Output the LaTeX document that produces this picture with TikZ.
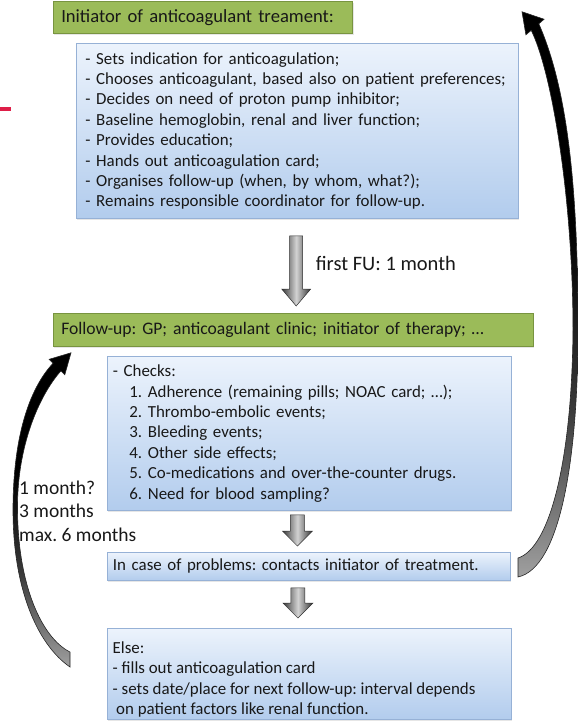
\documentclass[tikz,border=0pt]{standalone}
\usepackage{fontspec}
\setmainfont{Carlito}
\usetikzlibrary{calc,shadows}
\frenchspacing

\definecolor{boxgreen}{RGB}{155,187,89}
\definecolor{greenedge}{RGB}{120,148,64}
\definecolor{bluetop}{RGB}{236,243,252}
\definecolor{bluebot}{RGB}{178,204,237}
\definecolor{blueedge}{RGB}{150,177,214}
\definecolor{ink}{RGB}{24,24,24}
\definecolor{markred}{RGB}{222,30,72}

% dark head fading to grey tail for the curved return arrows
\pgfdeclareverticalshading{returnshade}{100bp}{color(0bp)=(gray!75); color(25bp)=(gray!75); color(40bp)=(gray!45!black); color(56bp)=(black); color(100bp)=(black)}

\tikzset{
  greenbox/.style={draw=greenedge, line width=0.9pt, fill=boxgreen, anchor=north west,
    inner xsep=8pt, inner ysep=0pt, align=left, text=ink,
    drop shadow={shadow xshift=0.8pt, shadow yshift=-1.2pt, opacity=0.2}},
  bluebox/.style={draw=blueedge, line width=0.8pt, top color=bluetop, bottom color=bluebot,
    anchor=north west, inner ysep=0pt, align=left, text=ink,
    drop shadow={shadow xshift=0.8pt, shadow yshift=-1.2pt, opacity=0.2}},
  boxtext/.style={font=\fontsize{16.9}{20.4}\selectfont},
  blockarrow/.style={draw=gray!35!black, line width=0.5pt,
    left color=gray!45!black, right color=gray!40!black, middle color=gray!35},
  returnarrow/.style={draw=gray!30!black, line width=0.6pt, shading=returnshade},
}

% straight block arrow from a start point down to a tip
% #1 start, #2 tip, #3 shaft half width, #4 head half width, #5 head length
\newcommand\blockarrow[5]{%
  \path[blockarrow] ($(#1)+(-#3,0)$) -- ($(#2)+(-#3,-#5)$) -- ($(#2)+(-#4,-#5)$) -- (#2)
    -- ($(#2)+(#4,-#5)$) -- ($(#2)+(#3,-#5)$) -- ($(#1)+(#3,0)$) -- cycle;}

\begin{document}
\begin{tikzpicture}[x=1pt,y=-1pt]
\useasboundingbox (0,0) rectangle (578,721);

% small red margin mark
\fill[markred] (0,107) rectangle (11,111);

% initiator
\node[greenbox, text width=283.6pt, minimum height=32pt,
  font=\fontsize{18.6}{21}\selectfont] (g1) at (52.8,1)
  {Initiator of anticoagulant treament:};

\node[bluebox, boxtext, inner xsep=9.4pt, text width=423.6pt, minimum height=175pt] (b1) at (75.6,43)
  {- Sets indication for anticoagulation;\\
   - Chooses anticoagulant, based also on patient preferences;\\
   - Decides on need of proton pump inhibitor;\\
   - Baseline hemoglobin, renal and liver function;\\
   - Provides education;\\
   - Hands out anticoagulation card;\\
   - Organises follow-up (when, by whom, what?);\\
   - Remains responsible coordinator for follow-up.};

% follow-up
\node[greenbox, text width=463.7pt, minimum height=33pt,
  font=\fontsize{17.6}{21}\selectfont] (g2) at (52.8,313)
  {Follow-up: GP; anticoagulant clinic; initiator of therapy; …};

\node[bluebox, boxtext, inner xsep=5.5pt, text width=393pt, minimum height=154pt] (b2) at (107,356)
  {- Checks:\\
   \hspace*{16.5pt}1. Adherence (remaining pills; NOAC card; …);\\
   \hspace*{16.5pt}2. Thrombo-embolic events;\\
   \hspace*{16.5pt}3. Bleeding events;\\
   \hspace*{16.5pt}4. Other side effects;\\
   \hspace*{16.5pt}5. Co-medications and over-the-counter drugs.\\
   \hspace*{16.5pt}6. Need for blood sampling?};

\node[bluebox, boxtext, inner xsep=5.5pt, text width=392pt, minimum height=28pt] (b3) at (107,552)
  {In case of problems: contacts initiator of treatment.};

\node[bluebox, minimum width=404pt, minimum height=91pt, inner sep=0pt] (b4) at (107,628) {};
\node[boxtext, anchor=north west, align=left, inner sep=0pt, text=ink] (b4t) at ($(b4.north west)+(5.5,13.5)$)
  {Else:\\
   - fills out anticoagulation card\\
   - sets date/place for next follow-up: interval depends\\
   \hspace*{3.5pt}on patient factors like renal function.};

% block arrows between the stages
\coordinate (a1s) at ($(b1.south)+(-1,17)$);
\coordinate (a1e) at ($(a1s |- g2.north)+(0,-7)$);
\blockarrow{a1s}{a1e}{6.5}{14.5}{17}
\node[anchor=west, font=\fontsize{20.5}{24}\selectfont, text=ink, inner sep=0pt] (fu) at ($(a1s)!0.4!(a1e)+(19.5,0)$) {first FU: 1 month};

\coordinate (a2s) at ($(b2.south)+(-12,4)$);
\coordinate (a2e) at ($(a2s |- b3.north)+(0,-6)$);
\blockarrow{a2s}{a2e}{7}{15}{15}

\coordinate (a3s) at ($(b3.south)+(-11,7)$);
\coordinate (a3e) at ($(a3s |- b4.north)+(0,-10)$);
\blockarrow{a3s}{a3e}{7}{15}{15}

% interval label
\node[anchor=north west, align=left, inner sep=0pt, text=ink,
  font=\fontsize{19.5}{23.5}\selectfont] (iv) at (19,480.5)
  {1 month?\\3 months\\max. 6 months};

% return to the initiator
\path[returnarrow] (518,577) .. controls (560,568) and (578,460) .. (578,330)
  .. controls (578,190) and (568,90) .. (538.8,23.8)
  -- (544.1,19.2) -- (522,11.8) -- (525.9,34.8) -- (531.2,30.3)
  .. controls (552,72) and (573,200) .. (573,330)
  .. controls (572,460) and (550,548) .. (518,558) -- cycle;

% loop back to the next follow-up
\path[returnarrow] (70,667) .. controls (38,645) and (13,590) .. (13,510)
  .. controls (13,440) and (28,390) .. (53.1,363.2)
  -- (49.2,359.3) -- (71,352.8) -- (64.8,374.7) -- (60.9,370.9)
  .. controls (42,392) and (18,440) .. (17.5,505)
  .. controls (17,585) and (42,638) .. (70,652) -- cycle;
\end{tikzpicture}
\end{document}
